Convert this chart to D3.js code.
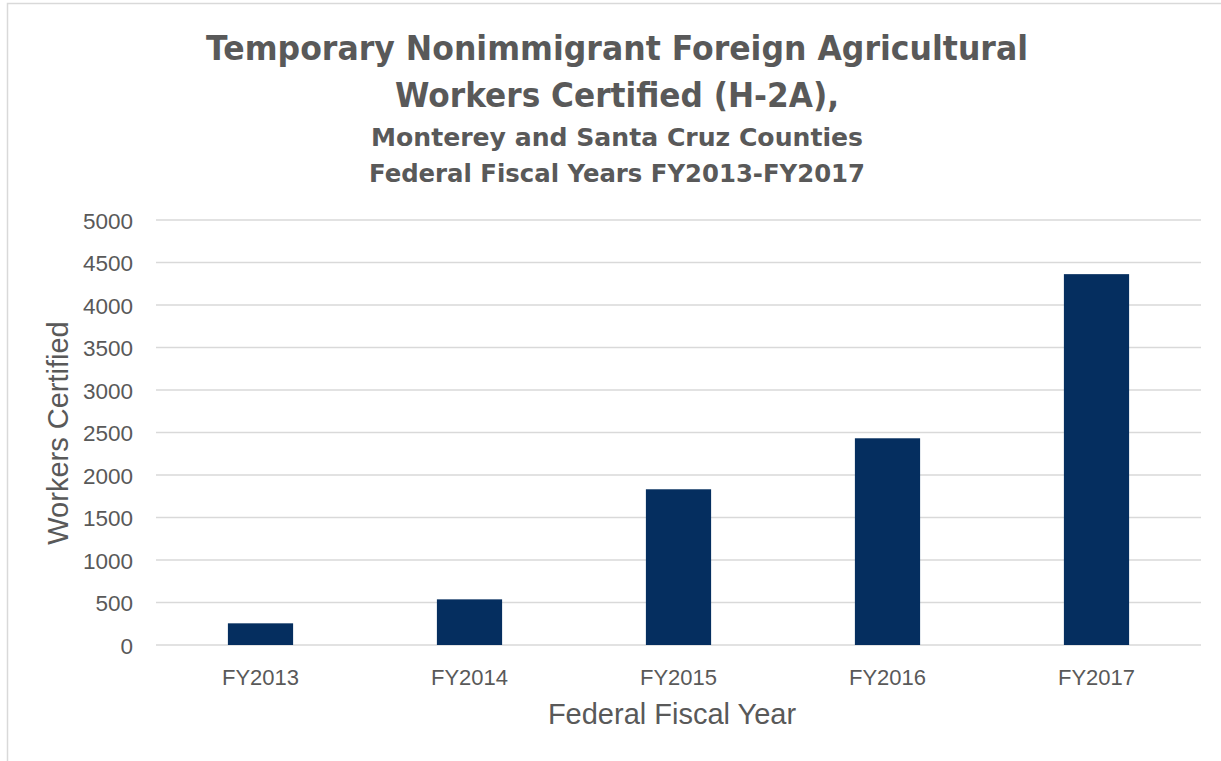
<!DOCTYPE html>
<html>
<head>
<meta charset="utf-8">
<script src="https://cdn.jsdelivr.net/npm/d3@7"></script>
<style>
  html, body { margin: 0; padding: 0; background: #fff; }
  svg { display: block; }
</style>
</head>
<body>
<svg id="chart" width="1221" height="761"></svg>
<script>
const categories = ["FY2013", "FY2014", "FY2015", "FY2016", "FY2017"];
const workersCertified = [255, 537, 1832, 2432, 4363];
const yTicks = [0, 500, 1000, 1500, 2000, 2500, 3000, 3500, 4000, 4500, 5000];
const titleLines = ["Temporary Nonimmigrant Foreign Agricultural", "Workers Certified (H-2A),"];
const subtitleLines = ["Monterey and Santa Cruz Counties", "Federal Fiscal Years FY2013-FY2017"];
const yAxisTitle = "Workers Certified";
const xAxisTitle = "Federal Fiscal Year";

const svg = d3.select("#chart");
const W = 1221, H = 761;
const textColor = "#595959";
const font = "'Liberation Sans', Arial, sans-serif";
const titleFont = "'DejaVu Sans', 'Liberation Sans', sans-serif";

// chart border (left and top visible)
svg.append("rect").attr("x", 7.5).attr("y", 3.5).attr("width", W + 20).attr("height", H + 20)
  .attr("fill", "#fff").attr("stroke", "#d9d9d9").attr("stroke-width", 1.5);

const plot = { left: 156, right: 1201, top: 220, bottom: 645 };

const x = d3.scaleBand().domain(categories).range([plot.left, plot.right]).padding(0);
const y = d3.scaleLinear().domain([0, 5000]).range([plot.bottom, plot.top]);

// gridlines
svg.append("g").selectAll("line").data(yTicks).join("line")
  .attr("x1", plot.left).attr("x2", plot.right)
  .attr("y1", d => y(d)).attr("y2", d => y(d))
  .attr("stroke", "#d9d9d9").attr("stroke-width", 1.5);

// y-axis labels
const yAxis = d3.axisLeft(y).tickValues(yTicks).tickFormat(d3.format("d")).tickSize(0).tickPadding(0);
const gy = svg.append("g").attr("transform", `translate(133,0)`).call(yAxis);
gy.select(".domain").remove();
gy.selectAll("text").attr("fill", textColor).attr("dy", "0.36em")
  .style("font-family", font).style("font-size", "22.5px");

// bars
const barW = x.bandwidth() * 0.312;
svg.append("g").selectAll("rect").data(categories).join("rect")
  .attr("x", d => x(d) + (x.bandwidth() - barW) / 2)
  .attr("y", (d, i) => y(workersCertified[i]))
  .attr("width", barW)
  .attr("height", (d, i) => y(0) - y(workersCertified[i]))
  .attr("fill", "#052e5f");

// x-axis labels
const xAxis = d3.axisBottom(x).tickSize(0).tickPadding(0);
const gx = svg.append("g").attr("transform", `translate(0,685)`).call(xAxis);
gx.select(".domain").remove();
gx.selectAll("text").attr("fill", textColor).attr("dy", 0).attr("y", 0)
  .style("font-family", font).style("font-size", "22px");

// axis titles
svg.append("text").attr("x", 672).attr("y", 724).attr("text-anchor", "middle")
  .attr("fill", textColor).style("font-family", font).style("font-size", "29px").text(xAxisTitle);
svg.append("text").attr("transform", "translate(68,433) rotate(-90)").attr("text-anchor", "middle")
  .attr("fill", textColor).style("font-family", font).style("font-size", "29px").text(yAxisTitle);

// titles
const tBase = [60, 107];
const tLen = [822, 444];
titleLines.forEach((t, i) => {
  svg.append("text").attr("x", 617).attr("y", tBase[i]).attr("text-anchor", "middle")
    .attr("fill", textColor).style("font-family", titleFont).style("font-weight", "bold")
    .style("font-size", "34px")
    .attr("textLength", tLen[i]).attr("lengthAdjust", "spacingAndGlyphs").text(t);
});
const sBase = [146, 182];
const sLen = [492, 496];
subtitleLines.forEach((t, i) => {
  svg.append("text").attr("x", 617).attr("y", sBase[i]).attr("text-anchor", "middle")
    .attr("fill", textColor).style("font-family", titleFont).style("font-weight", "bold")
    .style("font-size", "25px")
    .attr("textLength", sLen[i]).attr("lengthAdjust", "spacingAndGlyphs").text(t);
});
</script>
</body>
</html>
